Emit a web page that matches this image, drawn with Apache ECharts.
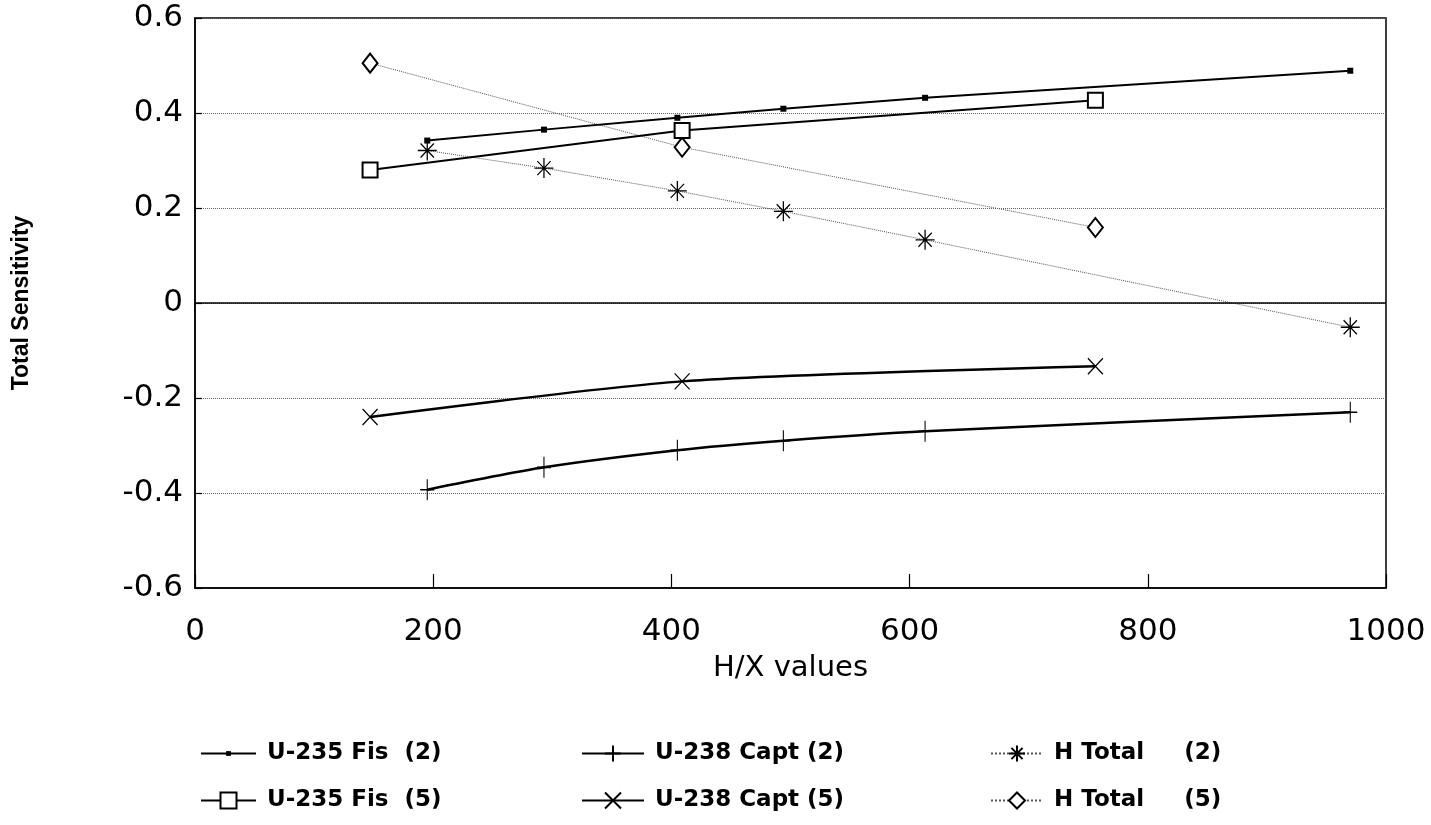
<!DOCTYPE html>
<html>
<head>
<meta charset="utf-8">
<script src="https://cdn.jsdelivr.net/npm/echarts@6/dist/echarts.min.js"></script>
<style>html,body{margin:0;padding:0;background:#fff;}#c{width:1431px;height:825px;}</style>
</head>
<body>
<div id="c"></div>
<script>
// ---- data ----
const hx2 = [195, 293, 405, 494, 613, 970];
const hx5 = [147, 409, 756];
const u235Fis2 = [0.342, 0.365, 0.390, 0.409, 0.432, 0.489];
const u238Capt2 = [-0.393, -0.346, -0.310, -0.290, -0.270, -0.230];
const hTotal2 = [0.321, 0.284, 0.236, 0.193, 0.133, -0.051];
const u235Fis5 = [0.280, 0.363, 0.427];
const u238Capt5 = [-0.240, -0.165, -0.133];
const hTotal5 = [0.505, 0.328, 0.159];
const seriesNames = ['U-235 Fis  (2)', 'U-235 Fis  (5)', 'U-238 Capt (2)', 'U-238 Capt (5)', 'H Total     (2)', 'H Total     (5)'];
const xTicks = [0, 200, 400, 600, 800, 1000];
const yTicks = [-0.6, -0.4, -0.2, 0, 0.2, 0.4, 0.6];

const pair = (xs, ys) => xs.map((x, i) => [x, ys[i]]);
const FONT = 'DejaVu Sans';
const DOT = 'path://M0,0M10,10M3.5,3.5L6.5,3.5L6.5,6.5L3.5,6.5Z';
const PLUS = 'path://M1,0L1,2M0,1L2,1';
const CROSS = 'path://M0,0L2,2M2,0L0,2';
const STAR = 'path://M1,0L1,2M0,1L2,1M0.3,0.3L1.7,1.7M1.7,0.3L0.3,1.7';

const solid = (w) => ({ color: '#000', width: w, type: 'solid' });
const dotted = { color: '#555', width: 1, type: 'dotted' };
const strokeSym = { color: '#000', borderColor: '#000', borderWidth: 1.3 };
const legendText = { fontFamily: FONT, fontWeight: 'bold', fontSize: 23, color: '#000', padding: [0, 0, 0, 6] };

const chart = echarts.init(document.getElementById('c'), null, { renderer: 'canvas' });
chart.setOption({
  backgroundColor: '#fff',
  animation: false,
  grid: { left: 195, right: 45, top: 18, bottom: 237, show: true, borderColor: '#000', borderWidth: 1.5, containLabel: false },
  xAxis: {
    type: 'value', min: 0, max: 1000, interval: 200,
    name: 'H/X values', nameLocation: 'middle', nameGap: 66,
    nameTextStyle: { fontFamily: FONT, fontSize: 29, color: '#000' },
    axisLine: { show: true, onZero: false, lineStyle: { color: '#000', width: 1.5 } },
    axisTick: { show: true, inside: true, length: 14, lineStyle: { color: '#000', width: 1.2 } },
    axisLabel: { fontFamily: FONT, fontSize: 31, color: '#000', margin: 28,
      formatter: v => xTicks.includes(v) ? String(v) : '' },
    splitLine: { show: false }
  },
  yAxis: {
    type: 'value', min: -0.6, max: 0.6, interval: 0.2,
    name: 'Total Sensitivity', nameLocation: 'middle', nameGap: 162, nameRotate: 90,
    nameTextStyle: { fontFamily: 'Liberation Sans', fontWeight: 'bold', fontSize: 23, color: '#000' },
    axisLine: { show: true, onZero: false, lineStyle: { color: '#000', width: 1.5 } },
    axisTick: { show: true, inside: true, length: 7, lineStyle: { color: '#000', width: 1.2 } },
    axisLabel: { fontFamily: FONT, fontSize: 31, color: '#000', margin: 12,
      formatter: v => { const r = Math.round(v * 10) / 10; const t = yTicks.find(k => Math.abs(k - r) < 1e-9); return t === undefined ? '' : (t === 0 ? '0' : t.toFixed(1)); } },
    splitLine: { show: true, lineStyle: { color: '#666', width: 1, type: 'dotted' } }
  },
  legend: [
    { data: [seriesNames[0], seriesNames[1]], orient: 'vertical', left: 195, top: 737, itemWidth: 55, itemHeight: 20, itemGap: 24, textStyle: legendText },
    { data: [seriesNames[2], seriesNames[3]], orient: 'vertical', left: 576, top: 737, itemWidth: 62, itemHeight: 20, itemGap: 24, textStyle: legendText },
    { data: [seriesNames[4], seriesNames[5]], orient: 'vertical', left: 985, top: 737, itemWidth: 52, itemHeight: 20, itemGap: 24, textStyle: legendText }
  ],
  series: [
    { name: seriesNames[0], type: 'line', data: pair(hx2, u235Fis2), symbol: DOT, symbolSize: 20,
      itemStyle: { color: '#000' }, lineStyle: solid(2), z: 5,
      markLine: { silent: true, symbol: 'none', label: { show: false }, lineStyle: { color: '#000', width: 1.5, type: 'solid' }, data: [{ yAxis: 0 }] } },
    { name: seriesNames[1], type: 'line', data: pair(hx5, u235Fis5), symbol: 'emptyRect', symbolSize: 15,
      itemStyle: { color: '#000', borderWidth: 1.3 }, lineStyle: solid(2), z: 5 },
    { name: seriesNames[2], type: 'line', data: pair(hx2, u238Capt2), symbol: PLUS, symbolSize: [14, 21], smooth: 0.25,
      itemStyle: strokeSym, lineStyle: solid(2.5), z: 5 },
    { name: seriesNames[3], type: 'line', data: pair(hx5, u238Capt5), symbol: CROSS, symbolSize: [15, 16], smooth: 0.25,
      itemStyle: strokeSym, lineStyle: solid(2.5), z: 5 },
    { name: seriesNames[4], type: 'line', data: pair(hx2, hTotal2), symbol: STAR, symbolSize: [19, 20],
      itemStyle: strokeSym, lineStyle: dotted, z: 4 },
    { name: seriesNames[5], type: 'line', data: pair(hx5, hTotal5), symbol: 'emptyDiamond', symbolSize: [15, 19],
      itemStyle: { color: '#000', borderWidth: 1.3 }, lineStyle: dotted, z: 4 }
  ]
});
</script>
</body>
</html>
